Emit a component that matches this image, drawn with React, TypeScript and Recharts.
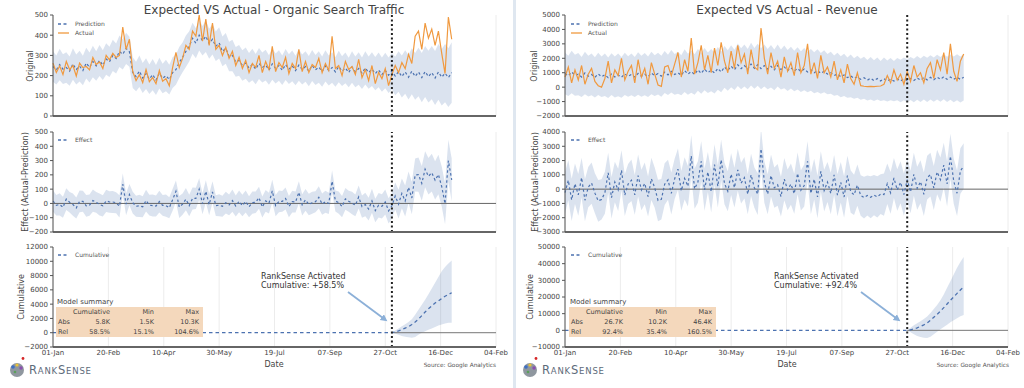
import React from 'react'
import { Area, CartesianGrid, ComposedChart, Line, ReferenceLine, XAxis, YAxis } from 'recharts'

// one point every 3 days, day 0 = 01-Jan
const STEP = 3
const X_TICKS = [0, 50, 100, 150, 200, 250, 300, 350, 400]
const X_TICK_LABELS = ['01-Jan', '20-Feb', '10-Apr', '30-May', '19-Jul', '07-Sep', '27-Oct', '16-Dec', '04-Feb']

// ---- Organic search traffic ----
const trafficPred = [
  245, 228, 255, 232, 240, 222, 258, 230, 247, 225,
  262, 240, 270, 248, 275, 252, 282, 268, 300, 285,
  320, 305, 335, 318, 215, 195, 222, 188, 210, 182,
  205, 178, 212, 186, 200, 180, 215, 230, 265, 290,
  320, 345, 385, 360, 400, 372, 395, 358, 380, 345,
  362, 320, 335, 295, 300, 268, 275, 250, 262, 238,
  255, 232, 260, 240, 252, 228, 258, 235, 250, 226,
  255, 232, 248, 225, 252, 230, 245, 222, 250, 228,
  242, 220, 248, 225, 240, 218, 245, 222, 238, 215,
  242, 218, 235, 212, 238, 215, 232, 210, 228, 205,
  225, 202, 222, 198, 220, 195, 218, 192, 222, 196,
  218, 190, 220, 195, 215, 188, 218, 192, 212, 190,
  215,
]
const trafficActual = [
  262, 215, 248, 205, 270, 230, 250, 198, 262, 240,
  245, 228, 290, 255, 268, 235, 300, 278, 310, 290,
  300, 440, 330, 380, 220, 175, 205, 165, 230, 170,
  190, 160, 225, 172, 185, 150, 240, 315, 240, 285,
  350, 330, 420, 395, 500, 370, 480, 350, 460, 330,
  350, 300, 340, 285, 320, 250, 290, 235, 275, 215,
  260, 240, 300, 215, 270, 230, 345, 220, 265, 240,
  290, 210, 260, 235, 330, 220, 270, 215, 255, 240,
  285, 215, 260, 225, 395, 235, 250, 200, 270, 230,
  245, 205, 280, 190, 230, 175, 250, 160, 215, 185,
  235, 150, 205, 250, 215, 265, 235, 305, 260, 395,
  420, 330, 460, 385, 430, 350, 420, 310, 210, 490,
  380,
]
const trafficHalf = [
  75, 72, 78, 74, 76, 72, 78, 74, 76, 73,
  76, 74, 78, 73, 77, 74, 78, 75, 77, 74,
  78, 75, 77, 74, 76, 73, 78, 74, 76, 73,
  77, 74, 76, 73, 78, 74, 76, 75, 77, 74,
  78, 75, 77, 74, 76, 73, 78, 74, 76, 73,
  77, 74, 76, 73, 78, 74, 76, 75, 77, 74,
  78, 75, 77, 74, 76, 73, 78, 74, 76, 73,
  77, 74, 76, 73, 78, 74, 76, 75, 77, 74,
  78, 75, 77, 74, 76, 73, 78, 74, 76, 73,
  78, 76, 80, 78, 82, 80, 84, 82, 86, 85,
  88, 88, 90, 95, 100, 104, 108, 110, 114, 116,
  120, 122, 126, 128, 132, 134, 138, 140, 144, 146,
  150,
]
const trafficCumStart = 102
const trafficCum = [0, 100, 250, 450, 650, 850, 1150, 1500, 1900, 2400, 2900, 3350, 3750, 4150, 4450, 4800, 5100, 5350, 5600]
const trafficCumHigh = [0, 300, 600, 900, 1200, 1500, 1900, 2500, 3200, 3900, 4600, 5400, 6200, 7000, 7800, 8600, 9200, 9700, 10100]
const trafficCumLow = [0, -150, -300, -450, -550, -650, -700, -600, -300, 0, 200, 400, 600, 800, 1000, 1150, 1300, 1400, 1400]
const trafficAbs = ['5.8K', '1.5K', '10.3K']
const trafficRel = ['58.5%', '15.1%', '104.6%']

// ---- Revenue ----
const revenuePred = [
  950, 780, 1050, 820, 900, 700, 980, 760, 880, 680,
  920, 720, 860, 650, 900, 700, 850, 680, 920, 740,
  880, 700, 950, 760, 900, 720, 980, 800, 940, 760,
  1050, 850, 1100, 880, 1000, 820, 1150, 900, 1080, 880,
  1200, 950, 1250, 1000, 1180, 980, 1300, 1050, 1400, 1150,
  1450, 1200, 1550, 1280, 1500, 1250, 1600, 1300, 1550, 1280,
  1500, 1250, 1450, 1200, 1500, 1220, 1400, 1150, 1350, 1120,
  1300, 1080, 1250, 1050, 1200, 1000, 1150, 960, 1100, 900,
  1000, 800, 920, 720, 850, 660, 780, 600, 720, 540,
  650, 480, 620, 450, 600, 430, 580, 420, 560, 420,
  560, 420, 580, 440, 600, 460, 640, 480, 660, 500,
  680, 520, 700, 540, 720, 540, 700, 540, 690, 530,
  680,
]
const revenueActual = [
  700, 1400, 300, 1200, 500, 1500, 200, 900, 1300, 400,
  100, 0, 600, 1800, 300, 1200, 800, 2000, 500, 1100,
  1500, 300, 1900, 700, 1300, 200, 1700, 900, 150, 50,
  1400, 1500, 800, 1600, 2400, 700, 1900, 1100, 3400, 900,
  1700, 2900, 1200, 2200, 1000, 2700, 1500, 3100, 1800, 1000,
  2500, 1300, 2900, 1700, 2300, 900, 2600, 1400, 1200, 4100,
  2000, 900, 2400, 1300, 1800, 700, 2100, 1100, 1700, 800,
  2400, 1000, 1500, 3000, 900, 1700, 600, 2200, 1000, 1400,
  700, 1800, 500, 1200, 300, 1600, 600, 200, 1000, 100,
  60, 40, 50, 30, 60, 80, 200, 800, 300, 1200,
  500, 900, 200, 1100, 400, 1500, 700, 1000, 300, 1300,
  1700, 600, 1900, 1200, 2400, 900, 3000, 1100, 400, 1800,
  2300,
]
const revenueHalf = [
  1450, 1400, 1480, 1420, 1460, 1390, 1470, 1410, 1450, 1400,
  1460, 1410, 1470, 1400, 1450, 1420, 1480, 1410, 1460, 1400,
  1450, 1390, 1470, 1420, 1460, 1400, 1480, 1410, 1450, 1420,
  1460, 1400, 1470, 1410, 1450, 1390, 1480, 1420, 1460, 1400,
  1450, 1410, 1470, 1400, 1460, 1420, 1480, 1410, 1450, 1400,
  1460, 1390, 1470, 1420, 1450, 1400, 1480, 1410, 1460, 1420,
  1450, 1400, 1470, 1410, 1460, 1390, 1480, 1420, 1450, 1400,
  1460, 1410, 1470, 1400, 1450, 1420, 1480, 1410, 1460, 1400,
  1450, 1390, 1470, 1420, 1460, 1400, 1480, 1410, 1450, 1420,
  1460, 1400, 1470, 1410, 1450, 1390, 1480, 1420, 1460, 1400,
  1460, 1470, 1480, 1490, 1490, 1500, 1510, 1510, 1520, 1530,
  1530, 1540, 1550, 1550, 1560, 1570, 1570, 1580, 1590, 1590,
  1600,
]
const revenueCumStart = 103
const revenueCum = [0, 300, 800, 1500, 2400, 3300, 4500, 6000, 7800, 9600, 11500, 13600, 15800, 18000, 20000, 22200, 24200, 26000]
const revenueCumHigh = [0, 1500, 3000, 4300, 5500, 6800, 8300, 10400, 12800, 15200, 18000, 21500, 25500, 29500, 33500, 37500, 41000, 44000]
const revenueCumLow = [0, -1200, -2400, -3400, -4000, -4400, -4600, -3800, -2400, -800, 600, 2000, 3400, 4800, 6000, 7200, 8400, 9200]
const revenueAbs = ['26.7K', '10.2K', '46.4K']
const revenueRel = ['92.4%', '35.4%', '160.5%']

const SUMMARY_COLS = ['Cumulative', 'Min', 'Max']

const FONT = 'DejaVu Sans, Verdana, sans-serif'
const BLUE = '#4c72b0'
const ORANGE = '#f0993f'
const INK = '#444'

const fmt = (v: number) => (v < 0 ? '\u2212' + Math.abs(v) : String(v))

function buildRows(pred: number[], actual: number[], half: number[], start: number, cum: number[], low: number[], high: number[]) {
  return pred.map((p, i) => {
    const a = actual[i]
    const h = half[i]
    const k = i - start
    return {
      day: i * STEP,
      pred: p,
      actual: a,
      band: [p - h, p + h],
      effect: a - p,
      effBand: [a - p - h, a - p + h],
      cum: k < 0 ? 0 : cum[k],
      cumBand: k < 0 ? null : [low[k], high[k]],
    }
  })
}

const trafficRows = buildRows(trafficPred, trafficActual, trafficHalf, trafficCumStart, trafficCum, trafficCumLow, trafficCumHigh)
const revenueRows = buildRows(revenuePred, revenueActual, revenueHalf, revenueCumStart, revenueCum, revenueCumLow, revenueCumHigh)

type PlotProps = {
  left: number
  top: number
  width: number
  height: number
  yw: number
  mr: number
  rows: any[]
  domain: number[]
  ticks: number[]
  showX?: boolean
  children?: React.ReactNode
}

function Plot({ left, top, width, height, yw, mr, rows, domain, ticks, showX, children }: PlotProps) {
  return (
    <div style={{ position: 'absolute', left, top }}>
      <ComposedChart width={width} height={height} data={rows} margin={{ top: 5, right: mr, left: 0, bottom: 0 }}>
        <CartesianGrid horizontal={false} stroke="#ececec" />
        <XAxis
          type="number"
          dataKey="day"
          domain={[0, 400]}
          ticks={X_TICKS}
          interval={0}
          height={showX ? 20 : 4}
          tick={showX ? { fontSize: 7, fill: INK, fontFamily: FONT } : false}
          tickFormatter={(v) => X_TICK_LABELS[X_TICKS.indexOf(v)]}
          tickLine={false}
          tickSize={2}
          tickMargin={1}
          axisLine={{ stroke: '#666', strokeWidth: 2 }}
        />
        <YAxis
          width={yw}
          domain={domain}
          ticks={ticks}
          interval={0}
          allowDataOverflow
          tick={{ fontSize: 7, fill: INK, fontFamily: FONT }}
          tickFormatter={fmt}
          tickSize={3}
          tickMargin={2}
          axisLine={{ stroke: '#555' }}
          tickLine={{ stroke: '#555' }}
        />
        {children}
      </ComposedChart>
    </div>
  )
}

type PanelProps = {
  left: number
  width: number
  yw: number
  mr: number
  rows: any[]
  cut: number
  top: number[]
  mid: number[]
  bot: number[]
}

function ticksOf(d: number[]) {
  const out: number[] = []
  for (let v = d[0]; v <= d[1]; v += d[2]) out.push(v)
  return out
}

function Panel({ left, width, yw, mr, rows, cut, top, mid, bot }: PanelProps) {
  const cutLine = <ReferenceLine x={cut} stroke="#222" strokeWidth={2} strokeDasharray="2 2.5" />
  return (
    <>
      <Plot left={left} top={10} width={width} height={110} yw={yw} mr={mr} rows={rows} domain={[top[0], top[1]]} ticks={ticksOf(top)}>
        <Area dataKey="band" stroke="none" fill={BLUE} fillOpacity={0.2} isAnimationActive={false} />
        <Line dataKey="pred" stroke={BLUE} strokeWidth={1.2} strokeDasharray="2.5 2.5" dot={false} isAnimationActive={false} />
        <Line dataKey="actual" stroke={ORANGE} strokeWidth={1.2} dot={false} isAnimationActive={false} />
        {cutLine}
      </Plot>
      <Plot left={left} top={127} width={width} height={109} yw={yw} mr={mr} rows={rows} domain={[mid[0], mid[1]]} ticks={ticksOf(mid)}>
        <Area dataKey="effBand" stroke="none" fill={BLUE} fillOpacity={0.2} isAnimationActive={false} />
        <ReferenceLine y={0} stroke="#666" strokeWidth={1} />
        <Line dataKey="effect" stroke={BLUE} strokeWidth={1.2} strokeDasharray="2.5 2.5" dot={false} isAnimationActive={false} />
        {cutLine}
      </Plot>
      <Plot left={left} top={242} width={width} height={125} yw={yw} mr={mr} rows={rows} domain={[bot[0], bot[1]]} ticks={ticksOf(bot)} showX>
        <Area dataKey="cumBand" stroke="none" fill={BLUE} fillOpacity={0.2} isAnimationActive={false} />
        <ReferenceLine segment={[{ x: cut, y: 0 }, { x: 400, y: 0 }]} stroke="#777" strokeWidth={1} />
        <Line dataKey="cum" stroke={BLUE} strokeWidth={1.3} strokeDasharray="3.5 3" dot={false} isAnimationActive={false} />
        {cutLine}
      </Plot>
    </>
  )
}

function YLabel({ x, y, text }: { x: number; y: number; text: string }) {
  return (
    <text transform={`translate(${x},${y}) rotate(-90)`} textAnchor="middle" dominantBaseline="central" fontSize={8} fill={INK}>
      {text}
    </text>
  )
}

function LegendItem({ x, y, label, color, dashed }: { x: number; y: number; label: string; color: string; dashed?: boolean }) {
  return (
    <g>
      <line x1={x} x2={x + 11} y1={y} y2={y} stroke={color} strokeWidth={1.3} strokeDasharray={dashed ? '3 2.5' : undefined} />
      <text x={x + 17} y={y + 2.2} fontSize={6} fill="#555">{label}</text>
    </g>
  )
}

type DecorProps = { dx: number; title: string; ylx: number[]; abs: string[]; rel: string[] }

function Decor({ dx, title, ylx, abs, rel }: DecorProps) {
  const t = (x: number) => x + dx
  const cols = [110, 154, 199]
  return (
    <g fontFamily={FONT}>
      <text x={t(274)} y={14} textAnchor="middle" fontSize={12} fill={INK}>{title}</text>
      <LegendItem x={t(58)} y={24} label="Prediction" color={BLUE} dashed />
      <LegendItem x={t(58)} y={33} label="Actual" color={ORANGE} />
      <LegendItem x={t(58)} y={140} label="Effect" color={BLUE} dashed />
      <LegendItem x={t(58)} y={255} label="Cumulative" color={BLUE} dashed />
      <YLabel x={ylx[0]} y={66} text="Original" />
      <YLabel x={ylx[1]} y={182} text="Effect (Actual-Prediction)" />
      <YLabel x={ylx[2]} y={297} text="Cumulative" />

      <text x={t(57)} y={304} fontSize={7} fill={INK}>Model summary</text>
      <rect x={t(56)} y={307} width={147} height={30} fill="#f4d8bc" />
      {SUMMARY_COLS.map((c, i) => (
        <text key={c} x={t(cols[i])} y={313.5} textAnchor="end" fontSize={6.5} fill={INK}>{c}</text>
      ))}
      <text x={t(58)} y={323.5} fontSize={6.5} fill={INK}>Abs</text>
      <text x={t(58)} y={333.5} fontSize={6.5} fill={INK}>Rel</text>
      {abs.map((v, i) => (
        <text key={'a' + i} x={t(cols[i])} y={323.5} textAnchor="end" fontSize={6.5} fill={INK}>{v}</text>
      ))}
      {rel.map((v, i) => (
        <text key={'r' + i} x={t(cols[i])} y={333.5} textAnchor="end" fontSize={6.5} fill={INK}>{v}</text>
      ))}

      <text x={t(261)} y={279} fontSize={8} fill="#333">RankSense Activated</text>
      <text x={t(261)} y={287.5} fontSize={8} fill="#333">{'Cumulative: +' + rel[0]}</text>
      <line x1={t(348)} y1={292} x2={t(385)} y2={319.5} stroke="#8cb0d8" strokeWidth={1.8} markerEnd="url(#arrowHead)" />

      <text x={t(274)} y={367} textAnchor="middle" fontSize={8} fill={INK}>Date</text>
      <text x={t(496)} y={367} textAnchor="end" fontSize={5.8} fill="#555">Source: Google Analytics</text>

      <circle cx={t(17)} cy={370} r={7} fill="#8f979f" />
      <circle cx={t(13)} cy={367} r={1.8} fill="#3d6fc4" />
      <circle cx={t(17)} cy={365} r={1.6} fill="#e9c23a" />
      <circle cx={t(21)} cy={368} r={1.7} fill="#8a4fb0" />
      <circle cx={t(15)} cy={372} r={1.3} fill="#5aa05a" />
      <circle cx={t(23)} cy={358.5} r={1.4} fill="#d62728" />
      <text x={t(29)} y={374} fill="#5d6b7a" letterSpacing={0.8}>
        <tspan fontSize={11.5}>R</tspan>
        <tspan fontSize={8.5}>ANK</tspan>
        <tspan fontSize={11.5}>S</tspan>
        <tspan fontSize={8.5}>ENSE</tspan>
      </text>
    </g>
  )
}

export default function App() {
  return (
    <div style={{ position: 'absolute', left: 0, top: 0, width: 1024, height: 388, background: '#fff', fontFamily: FONT }}>
      <Panel left={0} width={510} yw={53} mr={14} rows={trafficRows} cut={306} top={[0, 500, 100]} mid={[-200, 500, 100]} bot={[-2000, 12000, 2000]} />
      <Panel left={515} width={509} yw={50} mr={16} rows={revenueRows} cut={309} top={[-2000, 5000, 1000]} mid={[-3000, 4000, 1000]} bot={[-10000, 50000, 10000]} />
      <svg width={1024} height={388} style={{ position: 'absolute', left: 0, top: 0, pointerEvents: 'none' }}>
        <defs>
          <marker id="arrowHead" markerWidth={8} markerHeight={8} refX={4} refY={3.5} orient="auto" markerUnits="userSpaceOnUse">
            <path d="M0,0 L7,3.5 L0,7 z" fill="#8cb0d8" />
          </marker>
        </defs>
        <rect x={513} y={0} width={3} height={388} fill="#dfe7f0" />
        <Decor dx={0} title="Expected VS Actual - Organic Search Traffic" ylx={[30, 25, 21]} abs={trafficAbs} rel={trafficRel} />
        <Decor dx={513} title="Expected VS Actual - Revenue" ylx={[534, 535, 530]} abs={revenueAbs} rel={revenueRel} />
      </svg>
    </div>
  )
}
